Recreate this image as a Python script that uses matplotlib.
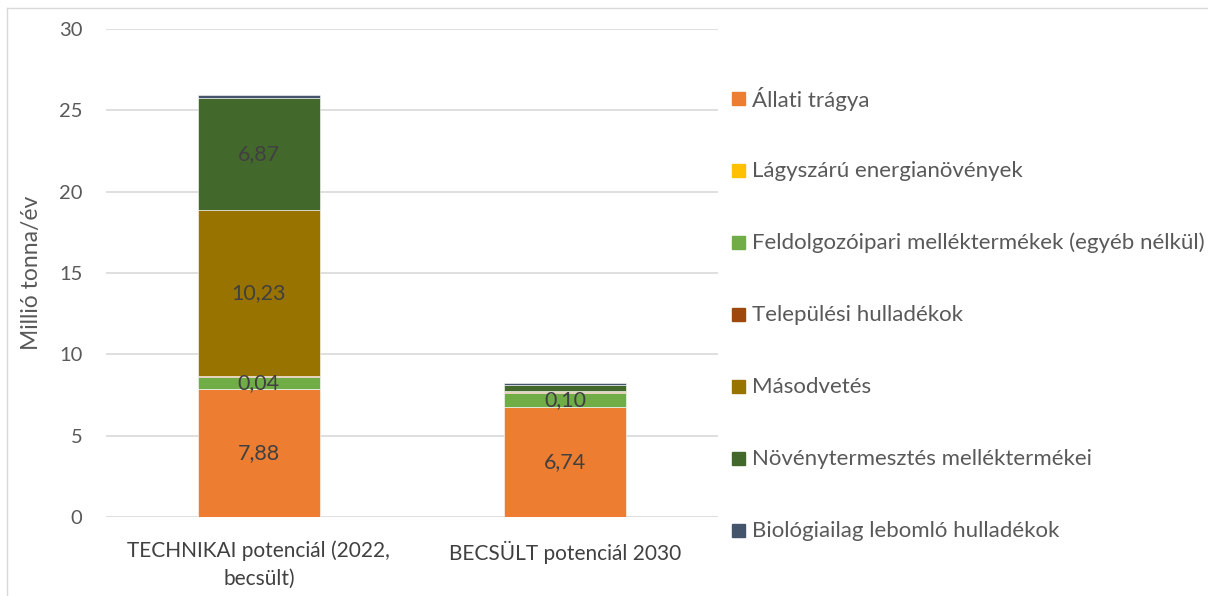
import matplotlib.pyplot as plt
from matplotlib.patches import Rectangle
from matplotlib.lines import Line2D

plt.rcParams['font.family'] = ['Lato', 'DejaVu Sans']

# Data
categories = ['TECHNIKAI potenciál (2022,\nbecsült)', 'BECSÜLT potenciál 2030']
series = ['Állati trágya', 'Lágyszárú energianövények',
          'Feldolgozóipari melléktermékek (egyéb nélkül)', 'Települési hulladékok',
          'Másodvetés', 'Növénytermesztés melléktermékei', 'Biológiailag lebomló hulladékok']
colors = ['#ED7D31', '#FFC000', '#70AD47', '#9E480E', '#997300', '#43682B', '#44546A']
values = [
    [7.88, 6.74],   # Állati trágya
    [0.00, 0.00],   # Lágyszárú energianövények
    [0.74, 0.86],   # Feldolgozóipari melléktermékek
    [0.02, 0.10],   # Települési hulladékok
    [10.23, 0.06],  # Másodvetés
    [6.87, 0.38],   # Növénytermesztés melléktermékei
    [0.17, 0.08],   # Biológiailag lebomló hulladékok
]
labels = [
    ['7,88', '6,74'],
    ['', ''],
    ['0,04', '0,10'],
    ['', ''],
    ['10,23', ''],
    ['6,87', ''],
    ['', ''],
]

fig = plt.figure(figsize=(12.08, 5.96), dpi=100)
ax = fig.add_axes([0.0877, 0.1326, 0.5066, 0.8188])

x = range(len(categories))
bottom = [0.0] * len(categories)
for vals, col, labs in zip(values, colors, labels):
    bars = ax.bar(x, vals, 0.4, bottom=bottom, color=col, edgecolor='white', linewidth=0.4, zorder=3)
    for b, v, lab, bt in zip(bars, vals, labs, bottom):
        if lab:
            ax.text(b.get_x() + b.get_width() / 2, bt + v / 2, lab, ha='center', va='center',
                    fontsize=15.5, color='#404040', zorder=4)
    bottom = [b + v for b, v in zip(bottom, vals)]

ax.set_xlim(-0.5, 1.5)
ax.set_ylim(0, 30)
ax.set_yticks(range(0, 31, 5))
ax.set_xticks(list(x))
ax.set_xticklabels(categories, fontsize=15, color='#404040', linespacing=1.45)
ax.tick_params(axis='y', labelsize=14.5, labelcolor='#595959', length=0, pad=17)
ax.tick_params(axis='x', length=0, pad=17)
ax.yaxis.grid(True, color='#d9d9d9', linewidth=1.2, zorder=0)
for s in ax.spines.values():
    s.set_visible(False)
ax.set_ylabel('Millió tonna/év', fontsize=16.5, color='#595959', labelpad=12)

# legend drawn on the figure
W, H = 1208, 596
for i, (name, col) in enumerate(zip(series, colors)):
    yc = 99 + 72 * i
    fig.patches.append(Rectangle((732 / W, 1 - (yc + 6) / H), 13 / W, 13 / H,
                                 transform=fig.transFigure, color=col))
    fig.text(752 / W, 1 - yc / H, name, fontsize=16, color='#595959', va='center', ha='left')

# chart area border
fig.add_artist(Line2D([7 / W, 7 / W], [0, 1 - 8 / H], transform=fig.transFigure, color='#d9d9d9', lw=1))
fig.add_artist(Line2D([7 / W, 1], [1 - 8 / H, 1 - 8 / H], transform=fig.transFigure, color='#d9d9d9', lw=1))

fig.savefig('out.png', dpi=100)
